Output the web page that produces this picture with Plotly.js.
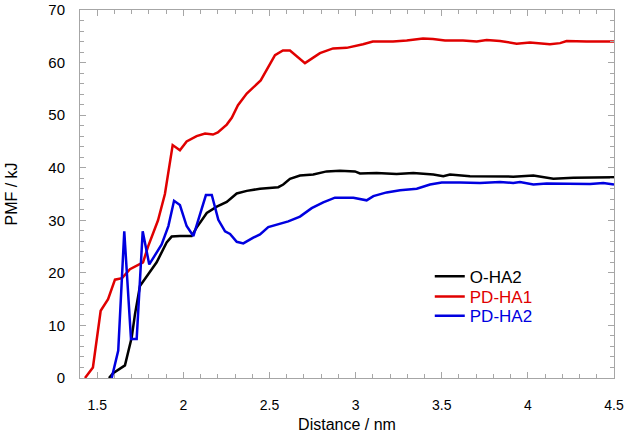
<!DOCTYPE html>
<html>
<head>
<meta charset="utf-8">
<script src="https://cdn.plot.ly/plotly-3.0.1.min.js"></script>
<style>html,body{margin:0;padding:0;background:#fff;}#chart{width:625px;height:439px;}</style>
</head>
<body>
<div id="chart"></div>
<script>
const seriesNames = ['O-HA2', 'PD-HA1', 'PD-HA2'];

const ohaX = [1.568,1.592,1.661,1.70,1.719,1.748,1.797,1.845,1.903,1.932,1.98,2.048,2.077,2.136,2.194,2.252,2.31,2.368,2.445,2.551,2.58,2.619,2.677,2.754,2.832,2.909,2.996,3.025,3.122,3.238,3.335,3.451,3.509,3.548,3.664,3.761,3.857,3.915,4.032,4.09,4.148,4.264,4.38,4.5];
const ohaY = [0,0.9,2.4,7.7,12.1,17.5,19.8,22,25.8,26.9,27,27,28.6,31.4,32.6,33.5,35.1,35.6,36.0,36.3,36.8,37.9,38.5,38.7,39.3,39.4,39.3,38.9,39.0,38.8,39.0,38.7,38.4,38.7,38.4,38.4,38.4,38.3,38.5,38.2,37.9,38.1,38.1,38.2];

const pd1X = [1.429,1.475,1.52,1.563,1.603,1.644,1.69,1.766,1.795,1.853,1.893,1.938,1.98,2.019,2.077,2.126,2.172,2.2,2.252,2.281,2.317,2.368,2.449,2.532,2.578,2.619,2.706,2.793,2.869,2.948,3.043,3.1,3.217,3.297,3.391,3.449,3.519,3.623,3.703,3.761,3.838,3.935,4.012,4.128,4.187,4.225,4.341,4.5];
const pd1Y = [0,2,12.8,15,18.7,19,20.7,22,25,30,35,44.3,43.3,45,46,46.5,46.3,46.7,48.2,49.5,51.9,54.1,56.6,61.4,62.3,62.3,59.9,61.8,62.7,62.8,63.5,64,64,64.2,64.6,64.5,64.2,64.2,64.0,64.3,64.1,63.6,63.8,63.5,63.7,64.1,64.0,64.0];

const pd2X = [1.584,1.622,1.657,1.696,1.729,1.764,1.802,1.874,1.913,1.946,1.98,2.019,2.058,2.097,2.131,2.165,2.203,2.242,2.271,2.31,2.348,2.406,2.445,2.493,2.542,2.609,2.677,2.745,2.812,2.88,2.987,3.064,3.103,3.18,3.258,3.355,3.432,3.5,3.606,3.722,3.838,3.915,3.954,4.032,4.109,4.225,4.361,4.438,4.5];
const pd2Y = [0,5.2,27.9,7.4,7.4,27.9,21.6,25.4,28.9,33.7,32.9,28.9,27,31,34.8,34.8,30.1,27.9,27.4,25.9,25.6,26.7,27.3,28.7,29.2,29.8,30.7,32.3,33.4,34.3,34.3,33.8,34.6,35.3,35.7,36.0,36.8,37.2,37.2,37.1,37.3,37.1,37.3,36.8,37.0,37.0,36.9,37.1,36.8];

const xTickVals = [1.5, 2, 2.5, 3, 3.5, 4, 4.5];
const yTickVals = [0, 10, 20, 30, 40, 50, 60, 70];

const colors = ['#000000', '#e00000', '#0000e0'];
const xs = [ohaX, pd1X, pd2X];
const ys = [ohaY, pd1Y, pd2Y];
const legendIds = ['legend', 'legend2', 'legend3'];
const legendY = [0.275, 0.220, 0.168];

const traces = seriesNames.map((n, i) => ({
  x: xs[i], y: ys[i], type: 'scatter', mode: 'lines',
  name: '<span style="color:' + colors[i] + '">' + n + '</span>',
  legend: legendIds[i],
  line: {color: colors[i], width: 2.5}
}));

const axisCommon = {
  showline: true, linecolor: '#a6a6a6', linewidth: 1, mirror: 'ticks',
  ticks: 'inside', ticklen: 6, tickcolor: '#a6a6a6', tickwidth: 1,
  showgrid: false, zeroline: false, ticklabeloverflow: 'allow'
};

const layout = {
  width: 625, height: 439,
  margin: {l: 80, r: 11, t: 10, b: 61},
  paper_bgcolor: '#fff', plot_bgcolor: '#fff',
  font: {family: 'Liberation Sans, Arial, sans-serif', color: '#000'},
  showlegend: true,
  xaxis: Object.assign({}, axisCommon, {
    range: [1.4, 4.5], tickvals: xTickVals, ticktext: xTickVals.map(String),
    tickfont: {family: 'Liberation Sans, Arial, sans-serif', size: 14, color: '#000'},
    minor: {dtick: 0.1, tick0: 1.4, ticks: 'inside', ticklen: 4, tickcolor: '#a6a6a6'},
    ticklabelstandoff: 14,
    title: {text: 'Distance / nm', font: {size: 16}, standoff: 7}
  }),
  yaxis: Object.assign({}, axisCommon, {
    range: [0, 70], tickvals: yTickVals, ticktext: yTickVals.map(String),
    tickfont: {family: 'Liberation Sans, Arial, sans-serif', size: 15, color: '#000'},
    minor: {dtick: 2, ticks: 'inside', ticklen: 4, tickcolor: '#a6a6a6'},
    ticklabelstandoff: 11,
    title: {text: 'PMF / kJ', font: {size: 16}, standoff: 26}
  })
};
legendIds.forEach((id, i) => {
  layout[id] = {x: 0.655, y: legendY[i], xanchor: 'left', yanchor: 'middle',
    bgcolor: 'rgba(0,0,0,0)', font: {size: 17}, itemwidth: 30};
});

Plotly.newPlot('chart', traces, layout, {displayModeBar: false, staticPlot: true});
</script>
</body>
</html>
